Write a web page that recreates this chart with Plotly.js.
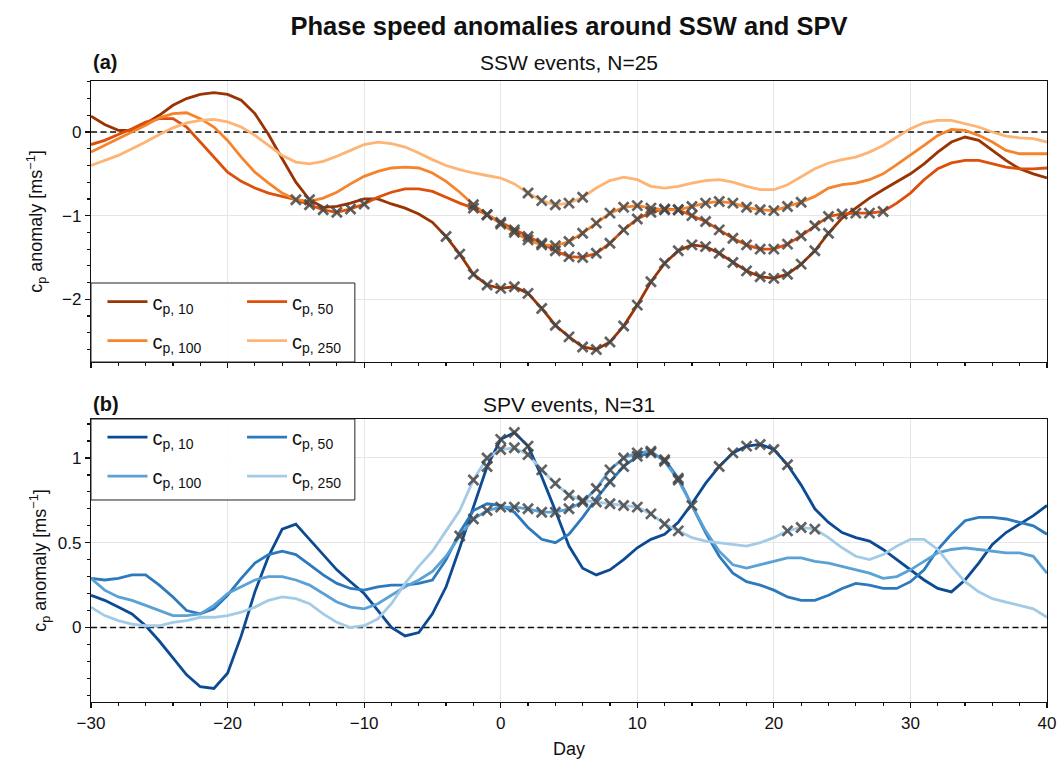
<!DOCTYPE html>
<html><head><meta charset="utf-8">
<script src="https://cdn.plot.ly/plotly-3.0.1.min.js"></script>
<style>html,body{margin:0;padding:0;background:#fff}#chart{width:1060px;height:760px}</style>
</head><body><div id="chart"></div>
<script>
const days = [-30,-29,-28,-27,-26,-25,-24,-23,-22,-21,-20,-19,-18,-17,-16,-15,-14,-13,-12,-11,-10,-9,-8,-7,-6,-5,-4,-3,-2,-1,0,1,2,3,4,5,6,7,8,9,10,11,12,13,14,15,16,17,18,19,20,21,22,23,24,25,26,27,28,29,30,31,32,33,34,35,36,37,38,39,40];

// (a) SSW events
const sswCp10 = [0.19,0.09,0.02,0.02,0.10,0.20,0.32,0.40,0.45,0.47,0.45,0.38,0.22,-0.03,-0.32,-0.60,-0.81,-0.90,-0.89,-0.85,-0.80,-0.80,-0.86,-0.91,-0.98,-1.08,-1.25,-1.46,-1.70,-1.83,-1.87,-1.85,-1.93,-2.11,-2.31,-2.45,-2.57,-2.60,-2.51,-2.32,-2.07,-1.79,-1.57,-1.42,-1.35,-1.37,-1.45,-1.56,-1.66,-1.73,-1.75,-1.70,-1.58,-1.42,-1.21,-1.03,-0.91,-0.79,-0.69,-0.59,-0.50,-0.38,-0.24,-0.12,-0.06,-0.10,-0.22,-0.34,-0.44,-0.50,-0.55];
const sswCp50 = [-0.15,-0.10,-0.03,0.04,0.12,0.16,0.16,0.06,-0.12,-0.30,-0.48,-0.59,-0.67,-0.73,-0.77,-0.81,-0.87,-0.93,-0.96,-0.92,-0.86,-0.78,-0.72,-0.68,-0.68,-0.71,-0.78,-0.85,-0.91,-0.99,-1.08,-1.17,-1.25,-1.33,-1.42,-1.49,-1.50,-1.45,-1.33,-1.17,-1.04,-0.96,-0.92,-0.93,-1.00,-1.07,-1.17,-1.27,-1.35,-1.40,-1.40,-1.34,-1.24,-1.12,-1.01,-0.98,-0.97,-0.97,-0.95,-0.85,-0.73,-0.57,-0.44,-0.37,-0.34,-0.34,-0.38,-0.42,-0.44,-0.44,-0.43];
const sswCp100 = [-0.24,-0.16,-0.08,0.00,0.08,0.17,0.22,0.23,0.16,0.06,-0.10,-0.30,-0.48,-0.61,-0.73,-0.81,-0.83,-0.79,-0.72,-0.62,-0.53,-0.47,-0.43,-0.42,-0.43,-0.49,-0.59,-0.72,-0.87,-0.99,-1.10,-1.20,-1.29,-1.35,-1.36,-1.31,-1.21,-1.09,-0.97,-0.90,-0.88,-0.91,-0.93,-0.93,-0.89,-0.85,-0.83,-0.85,-0.90,-0.93,-0.94,-0.89,-0.84,-0.77,-0.67,-0.63,-0.61,-0.57,-0.50,-0.39,-0.28,-0.16,-0.04,0.03,0.02,-0.04,-0.12,-0.22,-0.26,-0.26,-0.26];
const sswCp250 = [-0.40,-0.34,-0.28,-0.20,-0.12,-0.03,0.05,0.11,0.14,0.15,0.12,0.06,-0.04,-0.16,-0.28,-0.36,-0.38,-0.35,-0.29,-0.22,-0.15,-0.12,-0.14,-0.18,-0.25,-0.33,-0.40,-0.45,-0.49,-0.52,-0.55,-0.62,-0.73,-0.82,-0.87,-0.85,-0.78,-0.67,-0.58,-0.54,-0.57,-0.65,-0.67,-0.65,-0.61,-0.58,-0.57,-0.60,-0.65,-0.69,-0.69,-0.63,-0.53,-0.44,-0.37,-0.33,-0.30,-0.24,-0.16,-0.06,0.04,0.11,0.14,0.14,0.10,0.06,0.00,-0.05,-0.07,-0.08,-0.12];
// significant days (crosses)
const sswSig10 = [-14,-4,-3,-2,-1,0,1,2,3,4,5,6,7,8,9,10,11,12,13,14,15,16,17,18,19,20,21,22,23,24];
const sswSig50 = [-15,-14,-13,-12,-11,-10,-2,-1,0,1,2,3,4,5,6,7,8,9,10,11,12,13,14,15,16,17,18,19,20,21,22,23,24,25,26,27,28];
const sswSig100 = [-2,-1,0,1,2,3,4,5,6,7,8,9,10,11,12,13,14,15,16,17,18,19,20,21,22];
const sswSig250 = [2,3,4,5,6];

// (b) SPV events
const spvCp10 = [0.19,0.16,0.12,0.08,0.01,-0.08,-0.18,-0.28,-0.35,-0.36,-0.27,-0.05,0.21,0.42,0.58,0.61,0.52,0.43,0.34,0.27,0.20,0.10,0.00,-0.05,-0.03,0.08,0.24,0.47,0.71,0.95,1.11,1.15,1.07,0.89,0.69,0.48,0.35,0.31,0.34,0.40,0.47,0.52,0.55,0.62,0.73,0.85,0.95,1.03,1.07,1.08,1.05,0.96,0.84,0.70,0.62,0.56,0.53,0.51,0.46,0.40,0.34,0.28,0.23,0.21,0.28,0.38,0.49,0.56,0.61,0.66,0.72];
const spvCp50 = [0.29,0.28,0.29,0.31,0.31,0.25,0.18,0.10,0.08,0.11,0.19,0.29,0.38,0.43,0.45,0.43,0.37,0.31,0.26,0.23,0.22,0.24,0.25,0.25,0.26,0.28,0.40,0.56,0.69,0.73,0.72,0.68,0.59,0.52,0.50,0.55,0.65,0.76,0.86,0.95,1.01,1.03,0.99,0.88,0.72,0.56,0.42,0.32,0.27,0.25,0.22,0.18,0.16,0.16,0.19,0.23,0.26,0.25,0.23,0.23,0.27,0.34,0.46,0.55,0.63,0.65,0.65,0.64,0.62,0.60,0.55];
const spvCp100 = [0.29,0.22,0.18,0.16,0.13,0.10,0.07,0.07,0.08,0.13,0.20,0.24,0.28,0.30,0.30,0.28,0.25,0.20,0.15,0.12,0.11,0.14,0.19,0.24,0.28,0.33,0.42,0.54,0.64,0.69,0.71,0.71,0.70,0.68,0.68,0.70,0.74,0.82,0.93,1.00,1.03,1.04,0.98,0.87,0.72,0.57,0.45,0.37,0.35,0.37,0.39,0.41,0.41,0.39,0.38,0.36,0.34,0.32,0.29,0.30,0.34,0.39,0.44,0.46,0.47,0.46,0.45,0.44,0.44,0.42,0.32];
const spvCp250 = [0.12,0.07,0.04,0.02,0.01,0.01,0.03,0.04,0.06,0.06,0.07,0.09,0.12,0.16,0.18,0.17,0.14,0.08,0.03,0.00,0.01,0.05,0.14,0.26,0.36,0.45,0.57,0.69,0.87,1.00,1.05,1.06,1.02,0.93,0.85,0.78,0.75,0.74,0.73,0.72,0.71,0.67,0.61,0.57,0.53,0.51,0.50,0.49,0.48,0.50,0.53,0.57,0.59,0.58,0.53,0.47,0.42,0.40,0.43,0.48,0.52,0.52,0.46,0.36,0.27,0.21,0.17,0.15,0.13,0.11,0.06];
const spvSig10 = [-1,0,1,2,16,17,18,19,20,21];
const spvSig50 = [8,9,10,11,12,13,14];
const spvSig100 = [-3,-2,-1,0,1,2,3,4,5,6,7,8,9,10,11,12,13];
const spvSig250 = [-2,-1,0,1,2,3,4,5,6,7,8,9,10,11,12,13,21,22,23];

const legendNames = ['c<sub>p, 10</sub>','c<sub>p, 50</sub>','c<sub>p, 100</sub>','c<sub>p, 250</sub>'];
const sswColors = ['#9a3403','#dc500b','#f6842c','#fdb474'];
const spvColors = ['#0c4a93','#2c7abd','#5aa1d6','#a3cbe5'];

const FONT = 'Liberation Sans, Arial, sans-serif';

function zeroTrace(xa, ya) {
  return {type:'scatter', mode:'lines', x:[days[0], days[days.length-1]], y:[0, 0], xaxis:xa, yaxis:ya,
    showlegend:false, hoverinfo:'skip', line:{color:'#111', width:1.6, dash:'6px,3.5px'}};
}
function lineTrace(y, color, name, xa, ya, legend, group) {
  return {type:'scatter', mode:'lines', x:days, y:y, name:name, xaxis:xa, yaxis:ya,
    legend:legend, legendgroup:group, line:{color:color, width:2.8}, hoverinfo:'skip'};
}
function sigTrace(series, sigDays, xa, ya) {
  const x = [], yy = [];
  sigDays.forEach(d => { const i = days.indexOf(d); if (i >= 0) { x.push(d); yy.push(series[i]); } });
  return {type:'scatter', mode:'markers', x:x, y:yy, xaxis:xa, yaxis:ya, showlegend:false, hoverinfo:'skip',
    marker:{symbol:'x-thin', size:10, color:'rgba(70,70,70,0.85)', line:{width:2.7, color:'rgba(70,70,70,0.85)'}}};
}

const traces = [
  zeroTrace('x', 'y'),
  zeroTrace('x2', 'y2'),
  lineTrace(sswCp10, sswColors[0], legendNames[0], 'x', 'y', 'legend', 'a10'),
  lineTrace(sswCp50, sswColors[1], legendNames[1], 'x', 'y', 'legend2', 'a50'),
  lineTrace(sswCp100, sswColors[2], legendNames[2], 'x', 'y', 'legend', 'a100'),
  lineTrace(sswCp250, sswColors[3], legendNames[3], 'x', 'y', 'legend2', 'a250'),
  lineTrace(spvCp10, spvColors[0], legendNames[0], 'x2', 'y2', 'legend3', 'b10'),
  lineTrace(spvCp50, spvColors[1], legendNames[1], 'x2', 'y2', 'legend4', 'b50'),
  lineTrace(spvCp100, spvColors[2], legendNames[2], 'x2', 'y2', 'legend3', 'b100'),
  lineTrace(spvCp250, spvColors[3], legendNames[3], 'x2', 'y2', 'legend4', 'b250'),
  sigTrace(sswCp10, sswSig10, 'x', 'y'),
  sigTrace(sswCp50, sswSig50, 'x', 'y'),
  sigTrace(sswCp100, sswSig100, 'x', 'y'),
  sigTrace(sswCp250, sswSig250, 'x', 'y'),
  sigTrace(spvCp10, spvSig10, 'x2', 'y2'),
  sigTrace(spvCp50, spvSig50, 'x2', 'y2'),
  sigTrace(spvCp100, spvSig100, 'x2', 'y2'),
  sigTrace(spvCp250, spvSig250, 'x2', 'y2')
];

const tickFont = {family:FONT, size:17, color:'#111'};
function xAxis(anchor, showLabels, title) {
  const ax = {anchor:anchor, range:[-30,40], dtick:10, tick0:0, showticklabels:showLabels,
    ticks:'outside', ticklen:5, tickwidth:1.2, tickcolor:'#111', showline:true, linecolor:'#111', linewidth:1.2, mirror:true,
    showgrid:true, gridcolor:'#e6e6e6', gridwidth:1, zeroline:false, tickfont:tickFont,
    minor:{ticks:'outside', ticklen:3, dtick:2, tick0:0, tickcolor:'#111', showgrid:false}};
  if (title) ax.title = {text:title, font:{family:FONT, size:18, color:'#111'}, standoff:10};
  return ax;
}
function yAxis(anchor, domain, range, dtick, minor, standoff) {
  return {anchor:anchor, domain:domain, range:range, dtick:dtick, tick0:0,
    ticks:'outside', ticklen:5, tickwidth:1.2, tickcolor:'#111', showline:true, linecolor:'#111', linewidth:1.2, mirror:true,
    showgrid:true, gridcolor:'#e6e6e6', gridwidth:1, zeroline:false, tickfont:tickFont,
    minor:{ticks:'outside', ticklen:3, dtick:minor, tick0:0, tickcolor:'#111', showgrid:false},
    title:{text:'c<sub>p</sub> anomaly [ms<sup>−1</sup>]', font:{family:FONT, size:18, color:'#111'}, standoff:standoff}};
}

const legendBase = {bgcolor:'rgba(0,0,0,0)', borderwidth:0, font:{family:FONT, size:20, color:'#111'},
  tracegroupgap:10, xanchor:'left', yanchor:'top', itemwidth:40};

const layout = {
  width:1060, height:760,
  margin:{l:91, r:13, t:81, b:58},
  paper_bgcolor:'#fff', plot_bgcolor:'#fff',
  font:{family:FONT, color:'#111'},
  title:{text:'<b>Phase speed anomalies around SSW and SPV</b>', font:{family:FONT, size:25.5, color:'#111'},
    x:0.5, xref:'paper', xanchor:'center', y:1-26/760, yref:'container', yanchor:'middle'},
  xaxis:xAxis('y', false, null),
  yaxis:yAxis('x', [0.5475, 1], [-2.75, 0.61], 1, 0.2, 14),
  xaxis2:xAxis('y2', true, 'Day'),
  yaxis2:yAxis('x2', [0, 0.4557], [-0.44, 1.23], 0.5, 0.1, 6),
  legend:Object.assign({}, legendBase, {x:0.012, y:0.676}),
  legend2:Object.assign({}, legendBase, {x:0.158, y:0.676}),
  legend3:Object.assign({}, legendBase, {x:0.012, y:0.458}),
  legend4:Object.assign({}, legendBase, {x:0.158, y:0.458}),
  shapes:[
    {type:'rect', xref:'paper', yref:'paper', x0:0, x1:0.276, y0:0.5475, y1:0.6747, layer:'above', fillcolor:'rgba(255,255,255,0.92)', line:{color:'#222', width:1}},
    {type:'rect', xref:'paper', yref:'paper', x0:0, x1:0.276, y0:0.3253, y1:0.4557, layer:'above', fillcolor:'rgba(255,255,255,0.92)', line:{color:'#222', width:1}}
  ],
  annotations:[
    {xref:'paper', yref:'paper', x:0, y:(702-62)/621, xanchor:'left', yanchor:'middle', showarrow:false, text:'<b>(a)</b>', font:{family:FONT, size:20, color:'#111'}},
    {xref:'paper', yref:'paper', x:0.5, y:(702-62)/621, xanchor:'center', yanchor:'middle', showarrow:false, text:'SSW events, N=25', font:{family:FONT, size:21, color:'#111'}},
    {xref:'paper', yref:'paper', x:0, y:(702-404)/621, xanchor:'left', yanchor:'middle', showarrow:false, text:'<b>(b)</b>', font:{family:FONT, size:20, color:'#111'}},
    {xref:'paper', yref:'paper', x:0.5, y:(702-404)/621, xanchor:'center', yanchor:'middle', showarrow:false, text:'SPV events, N=31', font:{family:FONT, size:21, color:'#111'}}
  ]
};

Plotly.newPlot('chart', traces, layout, {displayModeBar:false, staticPlot:true});
</script>
</body></html>
